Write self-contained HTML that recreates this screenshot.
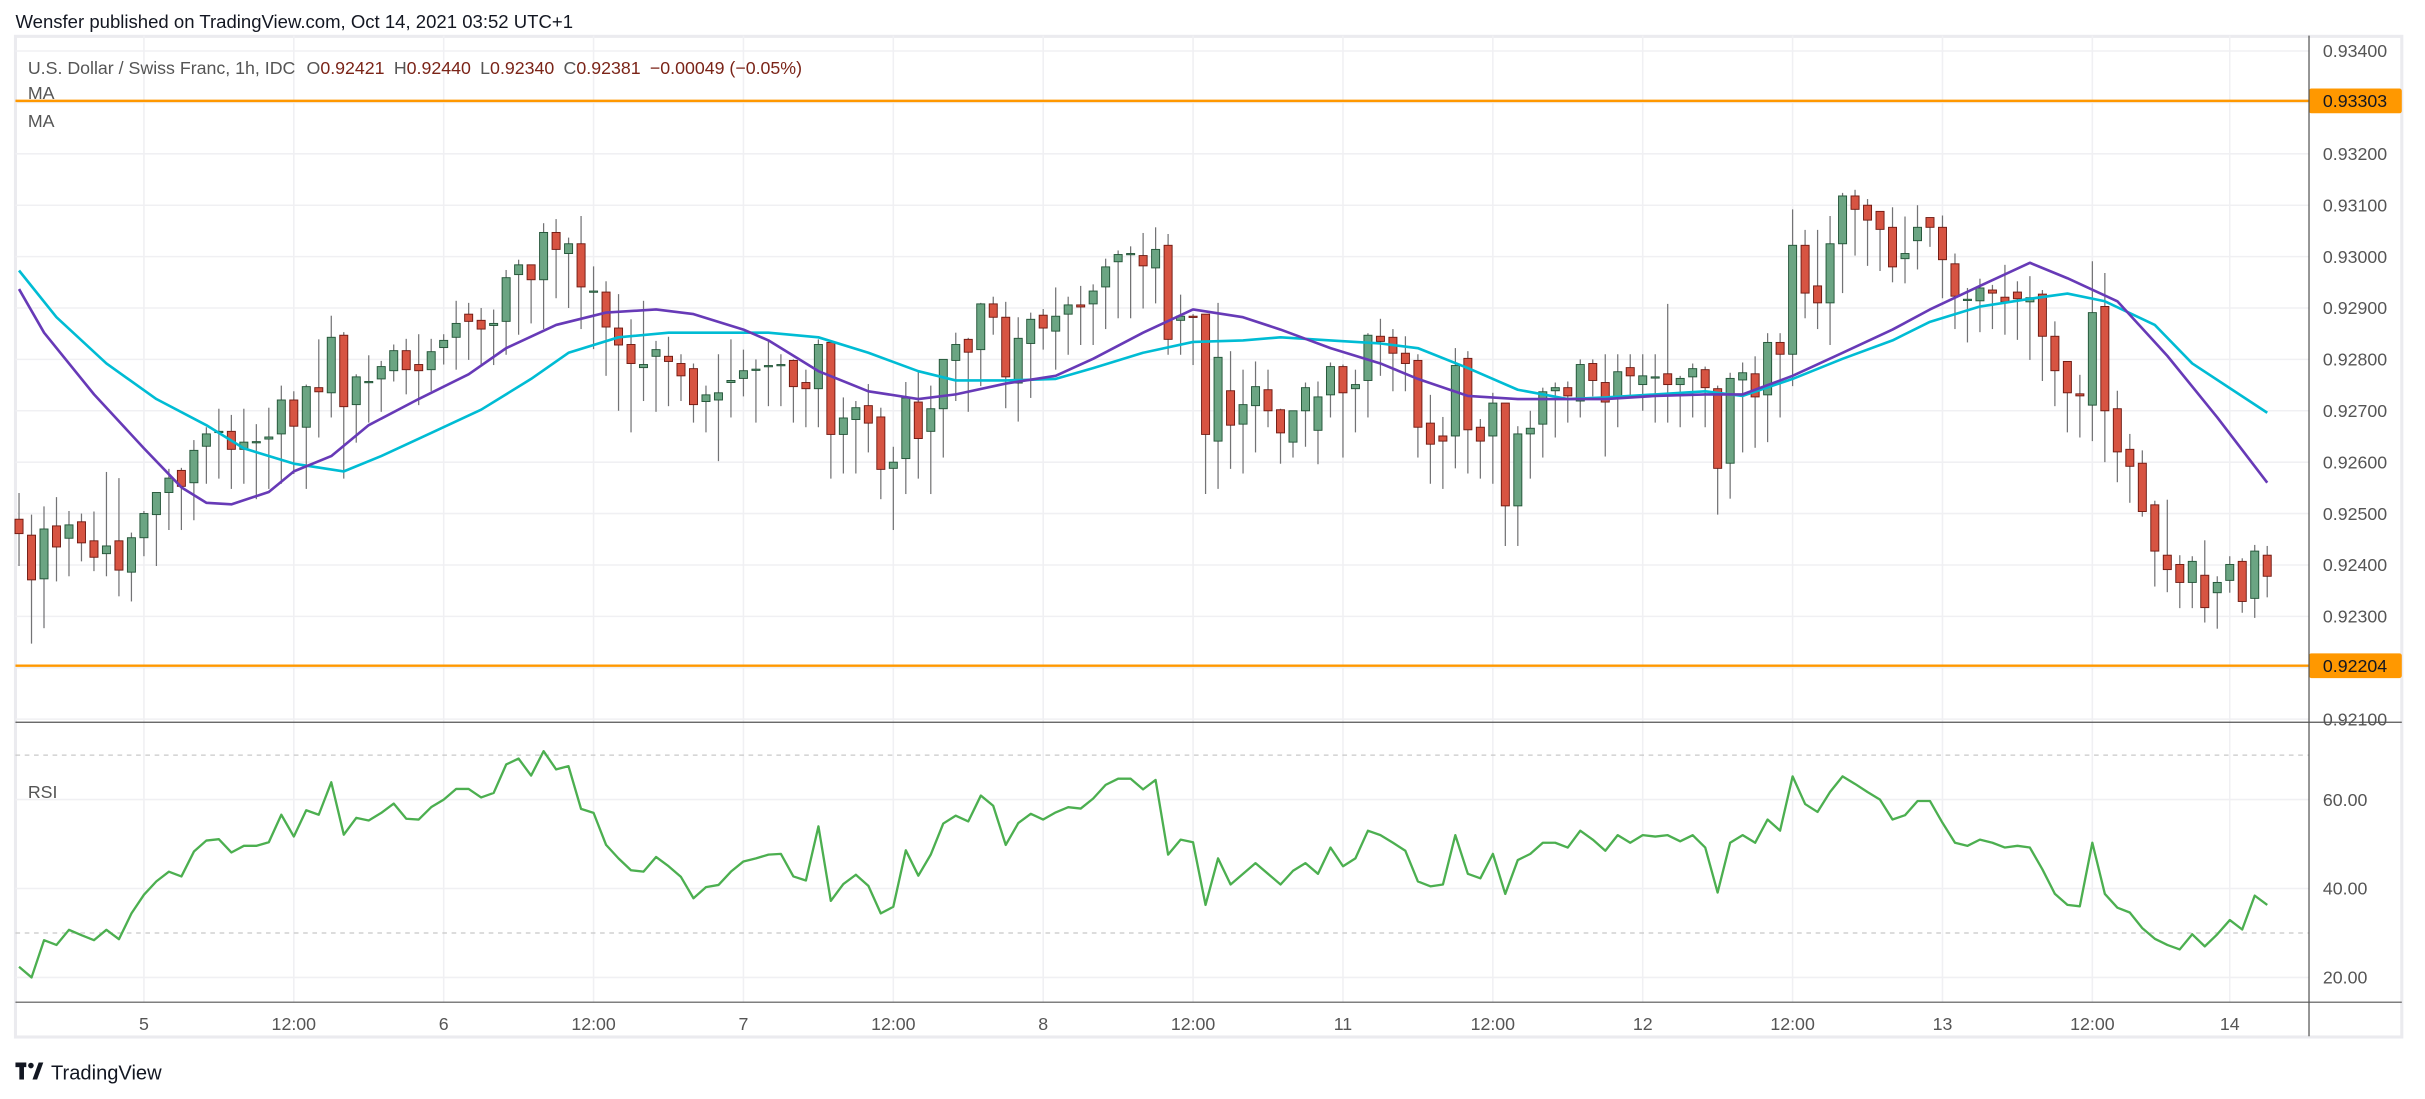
<!DOCTYPE html>
<html><head><meta charset="utf-8"><title>USDCHF 1h</title>
<style>
html,body{margin:0;padding:0;background:#fff;}
svg{display:block;font-family:"Liberation Sans",sans-serif;}
</style></head>
<body>
<svg id="chart" width="2425" height="1099" viewBox="0 0 1568 710.6" preserveAspectRatio="none" xmlns="http://www.w3.org/2000/svg">
<text x="10" y="18" font-size="12" fill="#131722">Wensfer published on TradingView.com, Oct 14, 2021 03:52 UTC+1</text>
<rect x="10" y="23.5" width="1543" height="647" fill="none" stroke="#ebebef" stroke-width="2"/>
<g id="grid"></g>
<g id="hlines"></g>
<g id="candles"></g>
<g id="mas"></g>
<g id="rsi"></g>
<g id="axes"></g>
<text x="18" y="48" font-size="11.5" fill="#555">U.S. Dollar / Swiss Franc, 1h, IDC <tspan dx="4">O</tspan><tspan fill="#7b2418">0.92421</tspan><tspan dx="6">H</tspan><tspan fill="#7b2418">0.92440</tspan><tspan dx="6">L</tspan><tspan fill="#7b2418">0.92340</tspan><tspan dx="6">C</tspan><tspan fill="#7b2418">0.92381</tspan><tspan dx="6" fill="#7b2418">−0.00049 (−0.05%)</tspan></text>
<text x="18" y="64" font-size="11.5" fill="#555">MA</text>
<text x="18" y="82" font-size="11.5" fill="#555">MA</text>
<text x="18" y="516" font-size="11.5" fill="#555">RSI</text>
<g>
<rect x="10" y="687" width="7" height="3" fill="#131722"/><rect x="12.5" y="687" width="3" height="11" fill="#131722"/>
<circle cx="20" cy="689" r="1.8" fill="#131722"/><polygon points="21,698 25,687 28,687 24,698" fill="#131722"/>
<text x="33" y="698" font-size="13" fill="#131722">TradingView</text>
</g>
</svg>
<script>
// Price data: offsets from 0.92000 in units of 0.00001
const opens=[489,458,373,476,452,484,447,422,447,386,453,498,541,584,560,631,660,660,625,640,645,655,721,668,745,735,847,712,757,762,778,817,790,780,823,843,888,876,866,874,965,984,955,1047,1006,1025,933,931,861,
829,784,806,806,792,782,718,721,755,763,781,788,788,798,755,743,833,654,683,710,688,588,607,717,660,704,798,839,819,908,882,754,831,886,855,888,906,908,941,990,1006,1002,978,1022,876,884,888,641,
739,674,710,741,702,639,700,662,731,786,743,759,845,843,812,798,676,651,651,802,668,651,715,515,655,674,739,745,719,792,755,725,784,751,766,772,751,766,780,743,598,760,772,731,833,810,1022,943,
910,1025,1118,1100,1088,1057,996,1031,1076,1057,986,917,914,935,921,931,912,927,845,796,733,711,903,704,625,598,517,419,401,366,380,346,370,407,335,419];
const closes=[461,371,470,435,478,443,415,437,390,453,500,541,569,553,623,655,660,625,639,640,649,721,670,747,737,843,708,766,757,786,817,780,778,815,837,870,874,859,870,959,984,955,1047,1014,1025,941,933,863,828,
792,790,819,796,768,712,731,735,759,778,781,788,790,747,743,829,654,686,706,676,586,600,725,646,704,800,829,814,908,882,766,841,878,861,884,906,902,933,980,1004,1006,982,1014,839,884,882,654,804,
672,712,747,700,657,700,745,727,786,735,751,847,835,812,792,668,635,641,788,663,641,715,515,655,666,737,745,729,790,759,717,776,768,768,766,751,763,782,745,588,763,774,727,833,810,1022,929,910,
1025,1118,1092,1071,1053,980,1006,1057,1057,994,923,917,939,929,912,918,920,845,778,735,729,891,700,620,592,504,427,391,366,407,317,366,401,329,427,378];
const highs=[540,498,514,532,505,500,504,581,569,463,505,541,587,589,643,668,704,692,704,674,706,749,738,751,839,885,853,771,808,797,829,840,849,840,849,914,910,900,897,974,994,984,1065,1073,1037,1079,981,952,927,
878,914,836,844,810,792,749,810,839,819,800,839,810,800,780,839,833,726,719,752,706,630,756,776,749,800,852,842,910,922,912,882,891,898,940,922,943,946,996,1012,1020,1046,1057,1044,926,888,888,910,
816,780,796,780,704,700,755,757,794,790,780,851,879,859,845,810,731,688,822,816,684,735,715,670,700,745,755,757,800,800,810,810,810,810,810,908,768,792,786,749,774,794,806,851,851,1092,1052,1052,
1079,1124,1130,1112,1088,1096,1078,1100,1076,1080,1006,939,957,945,984,952,962,935,874,796,770,991,968,739,655,623,525,527,419,417,448,378,417,413,439,437];
const lows=[398,247,277,368,378,407,388,378,339,329,417,398,468,468,487,558,568,548,558,528,548,558,577,548,648,687,568,638,677,698,757,732,711,738,790,780,799,789,789,809,848,870,859,919,900,859,820,768,700,
658,719,698,709,719,677,658,602,687,728,677,709,709,677,668,668,568,578,578,619,528,468,538,568,538,609,719,698,748,848,705,679,725,819,780,809,828,828,859,880,880,899,909,809,809,789,538,548,
587,578,619,668,597,609,630,596,687,609,658,687,768,738,738,609,558,548,588,578,568,558,437,437,568,609,648,677,687,728,611,668,725,700,677,677,668,687,668,498,529,619,628,639,687,748,880,859,
828,929,1002,982,972,950,948,975,1019,919,859,833,853,859,848,838,799,758,709,658,648,641,600,561,521,494,358,347,316,316,288,276,346,307,297,337];
// Moving averages sampled at bar indices (offsets, 1e-5)
const maFastBars=[0,2,6,10,13,15,17,20,22,25,28,32,36,39,43,47,51,54,58,60,64,68,72,75,79,83,86,90,94,98,101,105,109,112,116,120,124,127,131,135,138,142,146,150,153,157,161,164,168,172,176,180];
const maFastVals=[937,852,732,627,551,521,518,542,582,612,672,723,771,822,867,891,897,888,858,837,777,738,723,732,753,768,801,852,897,882,858,822,792,762,729,723,723,723,729,732,732,768,813,858,897,943,988,958,913,807,687,560];
const maSlowBars=[0,3,7,11,15,18,22,26,29,33,37,41,44,48,52,55,60,64,68,72,75,79,83,86,90,94,98,101,105,109,112,116,120,124,127,131,135,138,142,146,150,153,157,161,164,167,171,174,180];
const maSlowVals=[973,882,792,723,672,627,597,582,612,657,702,762,813,843,852,852,852,843,813,777,759,759,762,783,813,834,837,843,837,831,822,783,741,723,726,732,738,729,762,801,837,873,903,918,928,913,867,792,696];
const rsiVals=[22.4,20,28.4,27.3,30.7,29.5,28.4,30.7,28.6,34.4,38.6,41.6,43.8,42.7,48.3,50.8,51.1,48.1,49.6,49.6,50.4,56.6,51.7,57.6,56.6,63.9,52.1,55.9,55.3,57.0,59.1,55.7,55.5,58.3,60,62.4,62.4,60.5,61.5,67.9,69.2,65.4,70.9,66.8,67.5,57.9,57.0,49.8,46.8,44.1,43.8,47.1,45.0,42.6,37.8,40.3,40.8,43.8,46.1,46.8,47.6,47.8,42.7,41.8,54.0,37.2,41.0,43.1,40.6,34.4,35.9,48.6,42.9,47.6,54.6,56.4,55.1,60.9,58.6,49.8,54.7,56.8,55.5,57.1,58.3,58.0,60.2,63.3,64.7,64.7,62.3,64.4,47.6,51.0,50.4,
36.3,46.8,40.9,43.3,45.7,43.3,40.9,44,45.7,43.3,49.2,45,46.8,53,52,50.3,48.5,41.6,40.5,40.9,52,43.3,42.3,47.8,38.8,46.4,47.8,50.3,50.3,49.2,53,51,48.5,52,50.3,52,51.7,52,50.6,52,49.2,39.1,50.3,52,50.3,55.5,53,65.2,59,57.2,61.7,65.2,63.5,61.7,60,55.5,56.5,59.7,59.7,54.8,50.3,49.6,51,50.3,49.2,49.6,49.2,44.3,38.8,36.3,36,50.3,38.8,35.7,34.6,31.1,28.7,27.3,26.3,29.7,27,29.7,32.9,30.8,38.4,36.3];
const priceTicks=[0.934,0.933,0.932,0.931,0.930,0.929,0.928,0.927,0.926,0.925,0.924,0.923,0.922,0.921];
const priceTickLabels=["0.93400","","0.93200","0.93100","0.93000","0.92900","0.92800","0.92700","0.92600","0.92500","0.92400","0.92300","","0.92100"];
const hLevels=[0.93303,0.92204];
const hLevelLabels=["0.93303","0.92204"];
const rsiTicks=[60,40,20];
const rsiTickLabels=["60.00","40.00","20.00"];
const rsiBands=[70,30];
const timeTickBars=[10,22,34,46,58,70,82,94,106,118,130,142,154,166,177];
const timeTickLabels=["5","12:00","6","12:00","7","12:00","8","12:00","11","12:00","12","12:00","13","12:00","14"];

const NS="http://www.w3.org/2000/svg";
const X0=12.3, DX=8.076;
function xBar(i){return X0+i*DX;}
function yPrice(p){return 33+(0.934-p)/0.001*33.23;}
function yOff(v){return yPrice(0.92+v/100000);}
function yRsi(v){return 632-(v-20)*2.875;}
function mk(tag,attrs,parent){const e=document.createElementNS(NS,tag);for(const k in attrs)e.setAttribute(k,attrs[k]);parent.appendChild(e);return e;}
const grid=document.getElementById('grid'), hl=document.getElementById('hlines'), cg=document.getElementById('candles'),
 mg=document.getElementById('mas'), rg=document.getElementById('rsi'), ax=document.getElementById('axes');

// grid
priceTicks.forEach(p=>{const l=mk('line',{x1:10,x2:1493,y1:yPrice(p),y2:yPrice(p),stroke:'#f0f0f3','stroke-width':1},grid);

});
rsiTicks.forEach(v=>{const l=mk('line',{x1:10,x2:1493,y1:yRsi(v),y2:yRsi(v),stroke:'#f0f0f3','stroke-width':1},grid);

});
timeTickBars.forEach(b=>{const l=mk('line',{x1:xBar(b),x2:xBar(b),y1:23,y2:648,stroke:'#f0f0f3','stroke-width':1},grid);

});
rsiBands.forEach(v=>{const l=mk('line',{x1:10,x2:1493,y1:yRsi(v),y2:yRsi(v),stroke:'#c8c8c8','stroke-width':0.8,'stroke-dasharray':'3,3'},grid);

});

// candles
for(let i=0;i<opens.length;i++){
 const x=xBar(i), o=yOff(opens[i]), c=yOff(closes[i]), h=yOff(highs[i]), lo=yOff(lows[i]);
 const up=closes[i]>=opens[i];
 const w=mk('line',{x1:x,x2:x,y1:h,y2:lo,stroke:'#737375','stroke-width':0.8},cg);
 
 
 const top=Math.min(o,c), ht=Math.max(Math.abs(o-c),0.8);
 const r=mk('rect',{x:x-2.6,y:top,width:5.2,height:ht,fill:up?'#6ba583':'#d75442',stroke:up?'#225437':'#6f1a12','stroke-width':0.6},cg);
 
 
}
// moving averages
function poly(bars,vals,color,name){
 const pts=bars.map((b,k)=>xBar(b).toFixed(1)+','+yOff(vals[k]).toFixed(1)).join(' ');
 const p=mk('polyline',{points:pts,fill:'none',stroke:color,'stroke-width':1.7,'stroke-linejoin':'round'},mg);
 
 
}
poly(maSlowBars,maSlowVals,'#00bcd4','ma-slow-line');
poly(maFastBars,maFastVals,'#673ab7','ma-fast-line');

// horizontal levels
hLevels.forEach((p,k)=>{
 const l=mk('line',{x1:10,x2:1493,y1:yPrice(p),y2:yPrice(p),stroke:'#ff9800','stroke-width':1.6},hl);
 
 
 const r=mk('rect',{x:1493,y:yPrice(p)-8,width:60,height:16,rx:1.5,fill:'#ff9800'},ax);
 
 
 const t=mk('text',{x:1502,y:yPrice(p)+4,'font-size':11.5,fill:'#131722'},ax);
 t.textContent=hLevelLabels[k];
 
 
});

// RSI
const rp=mk('polyline',{points:rsiVals.map((v,i)=>xBar(i).toFixed(1)+','+yRsi(v).toFixed(1)).join(' '),fill:'none',stroke:'#4caf50','stroke-width':1.5,'stroke-linejoin':'round'},rg);



// axes
[[1493,23,1493,670],[10,467,1553,467],[10,648,1553,648]].forEach(a=>{
 const l=mk('line',{x1:a[0],y1:a[1],x2:a[2],y2:a[3],stroke:'#555','stroke-width':0.8},ax);
 
 
});
priceTicks.forEach((p,k)=>{ if(!priceTickLabels[k])return;
 const t=mk('text',{x:1502,y:yPrice(p)+4,'font-size':11.5,fill:'#555'},ax);
 t.textContent=priceTickLabels[k];
 
 });
rsiTicks.forEach((v,k)=>{
 const t=mk('text',{x:1502,y:yRsi(v)+4,'font-size':11.5,fill:'#555'},ax);
 t.textContent=rsiTickLabels[k];
 
 });
timeTickBars.forEach((b,k)=>{
 const t=mk('text',{x:xBar(b),y:666,'font-size':11.5,fill:'#555','text-anchor':'middle'},ax);
 t.textContent=timeTickLabels[k];
 
 });
</script>
</body></html>
